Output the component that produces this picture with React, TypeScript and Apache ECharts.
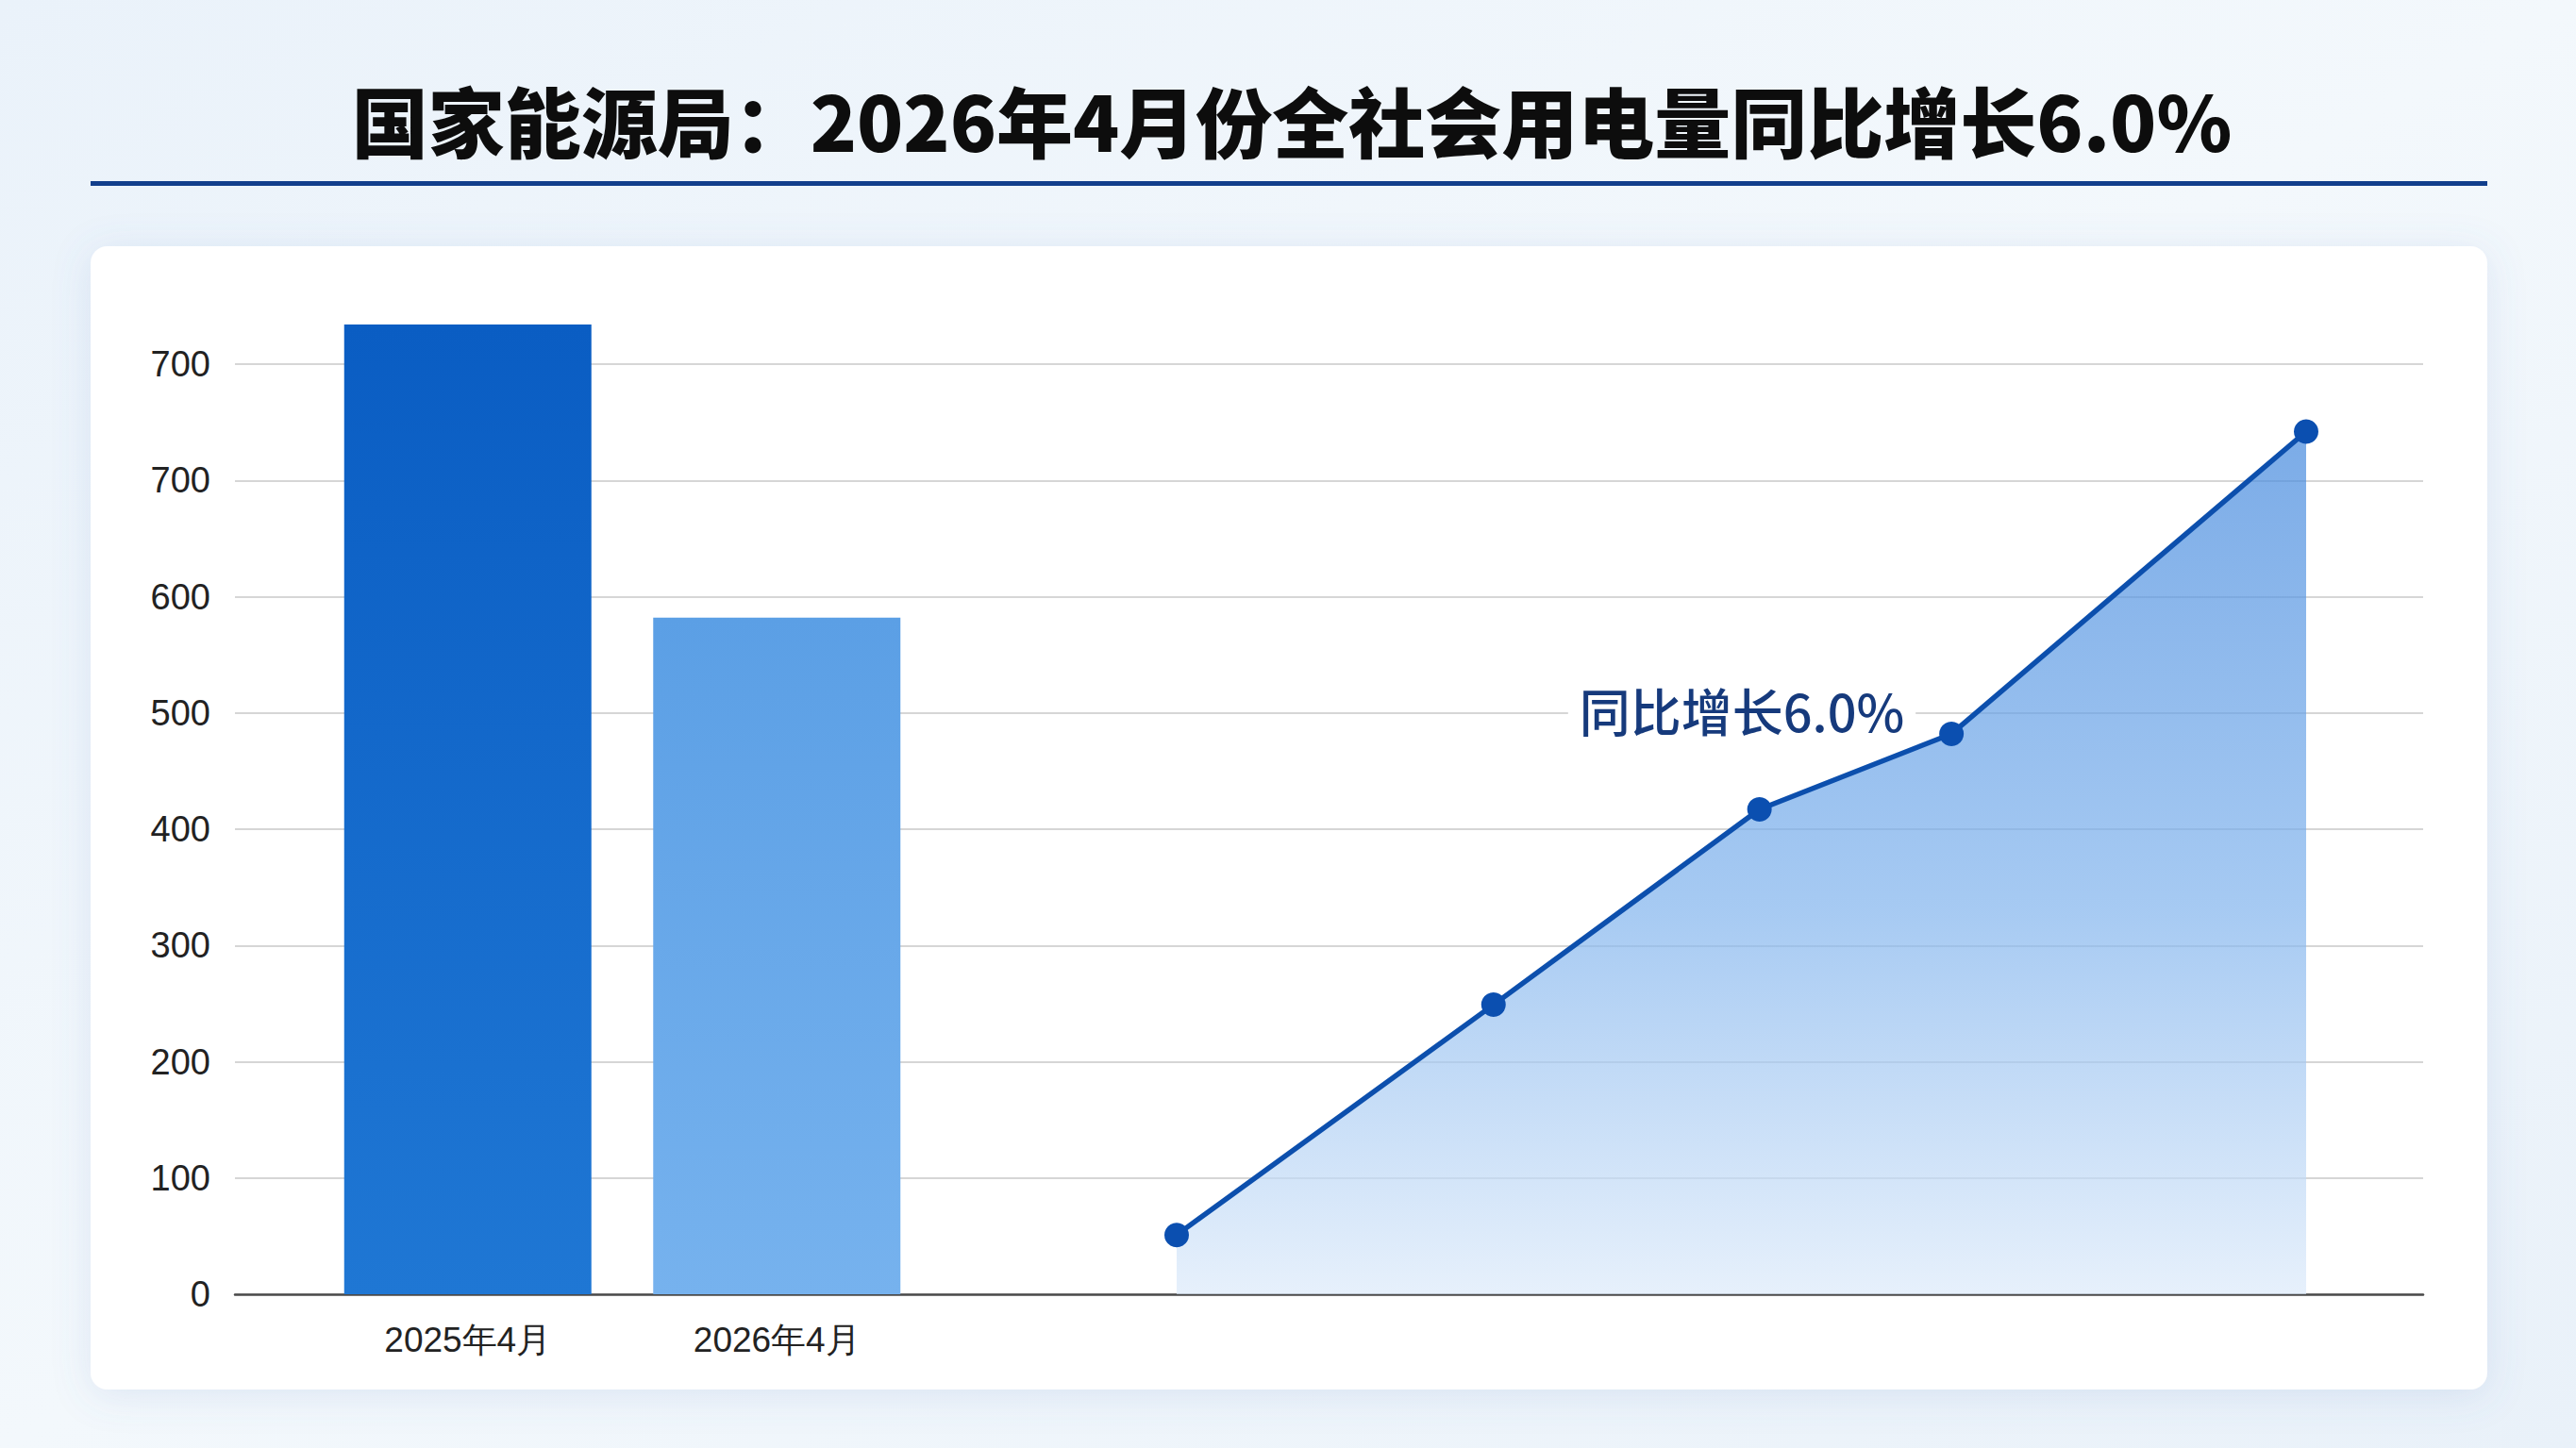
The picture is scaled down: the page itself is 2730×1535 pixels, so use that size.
import React, { useEffect, useRef } from 'react';
import * as echarts from 'echarts';

// 数据
const titleText = '国家能源局：2026年4月份全社会用电量同比增长6.0%';
const barCategories = ['2025年4月', '2026年4月'];
const barValues = [834, 582];
const yTickLabels = ['0', '100', '200', '300', '400', '500', '600', '700', '700'];
const trendX = [0, 0.2805, 0.516, 0.686, 1];
const trendY = [51, 249, 417, 482, 742];
const noteText = '同比增长6.0%';

const W = 2730;
const H = 1535;

const grad = (top: string, bottom: string) =>
  new echarts.graphic.LinearGradient(0, 0, 0, 1, [
    { offset: 0, color: top },
    { offset: 1, color: bottom }
  ]);

export default function App() {
  const ref = useRef<HTMLDivElement>(null);

  useEffect(() => {
    if (!ref.current) return;
    const chart = echarts.init(ref.current, null, { renderer: 'svg' });

    const yHidden = { type: 'value' as const, min: 0, max: 800, interval: 100, show: false };

    const option: echarts.EChartsOption = {
      animation: false,
      backgroundColor: new echarts.graphic.LinearGradient(0, 0, 1, 1, [
        { offset: 0, color: '#eaf2fa' },
        { offset: 0.5, color: '#f3f8fc' },
        { offset: 1, color: '#e9f1f9' }
      ]),
      textStyle: { fontFamily: 'Liberation Sans, Arial, sans-serif' },
      graphic: [
        {
          type: 'rect',
          z: -10,
          shape: { x: 96, y: 261, width: 2540, height: 1212, r: 18 },
          style: { fill: '#ffffff', shadowBlur: 40, shadowColor: 'rgba(90,130,190,0.15)', shadowOffsetY: 6 }
        },
        {
          type: 'text',
          x: W / 2 + 4,
          y: 125,
          style: {
            text: titleText,
            fontFamily: 'Noto Sans CJK SC',
            fontWeight: 900,
            fontSize: 81,
            fill: '#0d0d0d',
            textAlign: 'center',
            textVerticalAlign: 'middle'
          }
        },
        {
          type: 'rect',
          shape: { x: 96, y: 192, width: 2540, height: 5 },
          style: { fill: '#123f8c' }
        },
        {
          type: 'text',
          x: 1846,
          y: 752,
          z: 100,
          style: {
            text: noteText,
            fontFamily: 'Noto Sans CJK SC',
            fontWeight: 500,
            fontSize: 54,
            fill: '#163a7c',
            textAlign: 'center',
            textVerticalAlign: 'middle',
            backgroundColor: '#ffffff',
            padding: [4, 12]
          }
        }
      ],
      grid: [
        { left: 249, right: 162, top: 386, bottom: 163 },
        { left: 332, width: 655, top: 386, bottom: 163 },
        { left: 1247, right: 286, top: 386, bottom: 163 }
      ],
      xAxis: [
        {
          type: 'value',
          gridIndex: 0,
          min: 0,
          max: 1,
          axisLine: { show: true, onZero: false, lineStyle: { color: '#4a4a4a', width: 2.5 } },
          axisTick: { show: false },
          axisLabel: { show: false },
          splitLine: { show: false }
        },
        {
          type: 'category',
          gridIndex: 1,
          data: barCategories,
          axisLine: { show: false },
          axisTick: { show: false },
          axisLabel: { fontSize: 37, color: '#222', margin: 30 }
        },
        {
          type: 'value',
          gridIndex: 2,
          min: 0,
          max: 1,
          show: false
        }
      ],
      yAxis: [
        {
          type: 'value',
          gridIndex: 0,
          min: 0,
          max: 800,
          interval: 100,
          axisLine: { show: false },
          axisTick: { show: false },
          axisLabel: {
            fontSize: 38,
            color: '#222',
            margin: 26,
            formatter: (v: number) => yTickLabels[Math.round(v / 100)]
          },
          splitLine: { lineStyle: { color: '#d6d6d6', width: 2 } }
        },
        { ...yHidden, gridIndex: 1 },
        { ...yHidden, gridIndex: 2 }
      ],
      series: [
        {
          type: 'bar',
          xAxisIndex: 1,
          yAxisIndex: 1,
          barWidth: '80%',
          clip: false,
          data: [
            { value: barValues[0], itemStyle: { color: grad('#0a5dc3', '#1f77d4') } },
            { value: barValues[1], itemStyle: { color: grad('#5b9fe5', '#76b2ee') } }
          ]
        },
        {
          type: 'line',
          xAxisIndex: 2,
          yAxisIndex: 2,
          data: trendX.map((x, i) => [x, trendY[i]]),
          symbol: 'circle',
          symbolSize: 26,
          itemStyle: { color: '#0b4fb0' },
          lineStyle: { color: '#0c4fad', width: 5.5 },
          areaStyle: {
            color: new echarts.graphic.LinearGradient(0, 0, 0, 1, [
              { offset: 0, color: '#4388dd' },
              { offset: 0.55, color: '#80b3ed' },
              { offset: 1, color: '#dceafa' }
            ])
          },
          z: 5
        }
      ]
    };

    chart.setOption(option);
    return () => chart.dispose();
  }, []);

  return (
    <div
      ref={ref}
      style={{ position: 'absolute', left: 0, top: 0, width: W, height: H }}
    />
  );
}
